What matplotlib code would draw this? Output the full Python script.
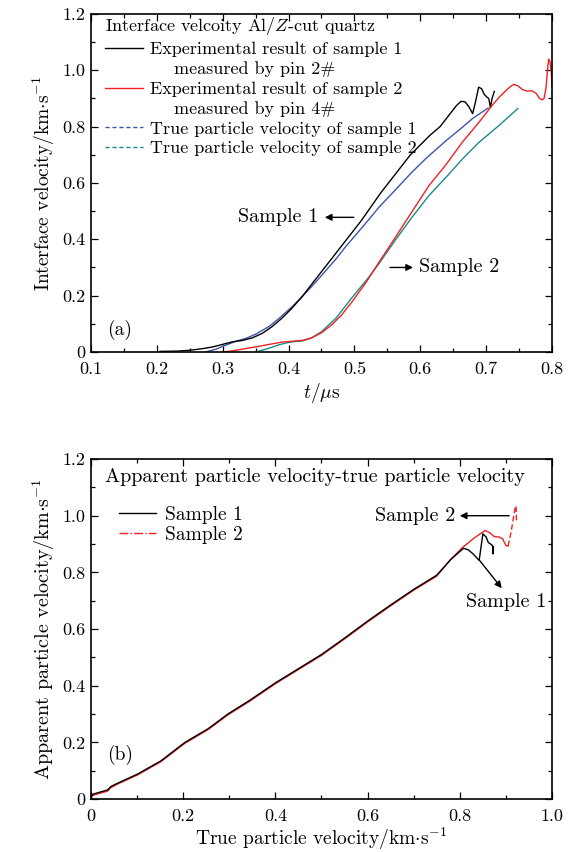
import matplotlib
matplotlib.use("Agg")
import matplotlib.pyplot as plt
from matplotlib.lines import Line2D
from matplotlib.ticker import MultipleLocator

plt.rcParams['font.family'] = ['cmr10', 'DejaVu Serif']
plt.rcParams['mathtext.fontset'] = 'cm'
plt.rcParams['axes.formatter.use_mathtext'] = True
plt.rcParams['axes.unicode_minus'] = False

# ---- panel (a): interface velocity vs time ----
t_exp1 = [0.205, 0.23, 0.25, 0.27, 0.285, 0.30, 0.315, 0.33, 0.345, 0.36, 0.375, 0.39,
          0.405, 0.42, 0.435, 0.45, 0.465, 0.48, 0.495, 0.51, 0.525, 0.54, 0.555, 0.57,
          0.585, 0.60, 0.615, 0.63, 0.645, 0.655, 0.662, 0.668, 0.674, 0.6795, 0.684,
          0.6886, 0.693, 0.697, 0.701, 0.704, 0.7065, 0.709, 0.7124]
v_exp1 = [0.002, 0.003, 0.006, 0.012, 0.018, 0.027, 0.036, 0.041, 0.05, 0.066, 0.09, 0.12,
          0.155, 0.195, 0.24, 0.285, 0.33, 0.375, 0.42, 0.465, 0.515, 0.565, 0.61, 0.655,
          0.70, 0.735, 0.77, 0.80, 0.845, 0.875, 0.89, 0.888, 0.87, 0.846, 0.89,
          0.94, 0.935, 0.915, 0.905, 0.90, 0.868, 0.90, 0.925]

t_true1 = [0.274, 0.29, 0.30, 0.32, 0.335, 0.35, 0.37, 0.386, 0.405, 0.421, 0.44, 0.457,
           0.472, 0.487, 0.50, 0.52, 0.5377, 0.56, 0.588, 0.61, 0.639, 0.66, 0.68, 0.703]
v_true1 = [0.0, 0.01, 0.02, 0.038, 0.048, 0.063, 0.09, 0.12, 0.16, 0.197, 0.245, 0.29,
           0.33, 0.375, 0.41, 0.465, 0.515, 0.57, 0.64, 0.69, 0.75, 0.79, 0.83, 0.866]

t_exp2 = [0.30, 0.315, 0.335, 0.355, 0.371, 0.39, 0.405, 0.421, 0.435, 0.45, 0.465, 0.48,
          0.497, 0.517, 0.5377, 0.563, 0.588, 0.613, 0.639, 0.664, 0.689, 0.709, 0.72,
          0.7297, 0.737, 0.742, 0.748, 0.755, 0.762, 0.77, 0.776, 0.781, 0.785, 0.788,
          0.791, 0.7935, 0.795, 0.797, 0.799, 0.80]
v_exp2 = [0.0, 0.004, 0.012, 0.02, 0.027, 0.035, 0.038, 0.041, 0.05, 0.068, 0.095, 0.13,
          0.18, 0.245, 0.32, 0.41, 0.50, 0.59, 0.665, 0.745, 0.815, 0.875, 0.905,
          0.927, 0.943, 0.95, 0.945, 0.932, 0.926, 0.927, 0.918, 0.90, 0.895, 0.90,
          0.94, 1.01, 1.04, 1.03, 0.99, 0.94]

t_true2 = [0.35, 0.36, 0.371, 0.385, 0.396, 0.41, 0.421, 0.435, 0.45, 0.472, 0.497, 0.52,
           0.5377, 0.563, 0.588, 0.613, 0.639, 0.664, 0.689, 0.72, 0.748]
v_true2 = [0.0, 0.006, 0.014, 0.025, 0.032, 0.037, 0.039, 0.05, 0.072, 0.12, 0.195, 0.26,
           0.315, 0.40, 0.48, 0.555, 0.62, 0.685, 0.744, 0.805, 0.864]

# ---- panel (b): apparent vs true particle velocity ----
u_s1 = [0.0, 0.004, 0.036, 0.043, 0.058, 0.101, 0.152, 0.203, 0.254, 0.297, 0.344, 0.40,
        0.45, 0.50, 0.55, 0.60, 0.65, 0.70, 0.75, 0.78, 0.808, 0.818, 0.829, 0.842,
        0.85, 0.857, 0.862, 0.867, 0.871, 0.872, 0.873]
a_s1 = [0.008, 0.017, 0.032, 0.044, 0.056, 0.088, 0.135, 0.199, 0.248, 0.30, 0.348, 0.41,
        0.46, 0.51, 0.568, 0.628, 0.685, 0.74, 0.79, 0.845, 0.885, 0.88, 0.865, 0.842,
        0.936, 0.925, 0.905, 0.90, 0.894, 0.865, 0.89]
u_s2 = [0.0, 0.004, 0.036, 0.043, 0.058, 0.101, 0.152, 0.203, 0.254, 0.297, 0.344, 0.40,
        0.45, 0.50, 0.55, 0.60, 0.65, 0.70, 0.75, 0.78, 0.804, 0.83, 0.855, 0.865,
        0.875, 0.885, 0.893, 0.90, 0.905]
a_s2 = [0.003, 0.013, 0.028, 0.04, 0.053, 0.085, 0.132, 0.196, 0.245, 0.297, 0.345, 0.407,
        0.457, 0.507, 0.565, 0.625, 0.682, 0.737, 0.787, 0.845, 0.885, 0.92, 0.948, 0.94,
        0.926, 0.925, 0.918, 0.895, 0.893]
u_s2_tail = [0.905, 0.912, 0.917, 0.92, 0.922, 0.923]
a_s2_tail = [0.893, 0.949, 1.0, 1.027, 1.035, 0.98]

xticks_a = [0.1, 0.2, 0.3, 0.4, 0.5, 0.6, 0.7, 0.8]
xticklabels_a = ['0.1', '0.2', '0.3', '0.4', '0.5', '0.6', '0.7', '0.8']
xticks_b = [0.0, 0.2, 0.4, 0.6, 0.8, 1.0]
xticklabels_b = ['0', '0.2', '0.4', '0.6', '0.8', '1.0']
yticks = [0.0, 0.2, 0.4, 0.6, 0.8, 1.0, 1.2]
yticklabels = ['0', '0.2', '0.4', '0.6', '0.8', '1.0', '1.2']

RED = '#ee2222'
BLUE = '#3b55a8'
TEAL = '#1b8a8a'

fig = plt.figure(figsize=(5.81, 8.52), dpi=100)
ax1 = fig.add_axes([0.1566, 0.5869, 0.7935, 0.3967])
ax2 = fig.add_axes([0.1566, 0.0622, 0.7935, 0.3990])


def style_axes(ax, xminor):
    for s in ax.spines.values():
        s.set_linewidth(1.2)
    ax.tick_params(which='both', direction='in', top=True, right=True, labelsize=13)
    ax.tick_params(which='major', length=5, width=0.9)
    ax.tick_params(which='minor', length=3, width=0.9)
    ax.tick_params(axis='x', which='major', pad=7)
    ax.tick_params(axis='y', which='major', pad=4)
    ax.xaxis.set_minor_locator(MultipleLocator(xminor))
    ax.yaxis.set_minor_locator(MultipleLocator(0.1))
    ax.set_yticks(yticks)
    ax.set_yticklabels(yticklabels)
    ax.set_ylim(0, 1.2)


arrow = dict(arrowstyle='-|>', color='black', lw=1.0, mutation_scale=10,
             shrinkA=0, shrinkB=0)

# ---------- (a) ----------
ax1.plot(t_true1, v_true1, color=BLUE, lw=1.0)
ax1.plot(t_true2, v_true2, color=TEAL, lw=1.0)
ax1.plot(t_exp1, v_exp1, color='black', lw=1.0)
ax1.plot(t_exp2, v_exp2, color=RED, lw=1.0)
style_axes(ax1, 0.05)
ax1.set_xlim(0.1, 0.8)
ax1.set_xticks(xticks_a)
ax1.set_xticklabels(xticklabels_a)
ax1.set_xlabel(r'$t$/$\mu$s', fontsize=14, labelpad=3)
ax1.set_ylabel(r'Interface velocity/km$\cdot$s$^{-1}$', fontsize=14)

# second lines of the two-line entries get an empty handle
blank = Line2D([], [], color='none')
handles_a = [Line2D([], [], color='black', lw=1.0), blank,
             Line2D([], [], color=RED, lw=1.0), blank,
             Line2D([], [], color=BLUE, lw=1.0, ls=(0, (3, 2))),
             Line2D([], [], color=TEAL, lw=1.0, ls=(0, (3, 2)))]
labels_a = ['Experimental result of sample 1', '    measured by pin 2#',
            'Experimental result of sample 2', '    measured by pin 4#',
            'True particle velocity of sample 1',
            'True particle velocity of sample 2']
ax1.legend(handles_a, labels_a, loc='upper left', bbox_to_anchor=(0.03, 0.996),
           frameon=False, fontsize=13,
           title=r'Interface velcoity Al/$Z$-cut quartz', title_fontsize=13,
           alignment='left', handlelength=2.1, handletextpad=0.4,
           labelspacing=0.23, borderaxespad=0.0, borderpad=0.0)

ax1.annotate('', xy=(0.455, 0.478), xytext=(0.499, 0.478), arrowprops=arrow)
ax1.text(0.445, 0.478, 'Sample 1', ha='right', va='center', fontsize=14.5)
ax1.annotate('', xy=(0.589, 0.30), xytext=(0.554, 0.30), arrowprops=arrow)
ax1.text(0.598, 0.30, 'Sample 2', ha='left', va='center', fontsize=14.5)
ax1.text(0.125, 0.077, '(a)', ha='left', va='center', fontsize=14)

# ---------- (b) ----------
ax2.plot(u_s2, a_s2, color=RED, lw=1.0)
ax2.plot(u_s2_tail, a_s2_tail, color=RED, lw=1.0, ls=(0, (4, 2)))
ax2.plot(u_s1, a_s1, color='black', lw=1.0)
style_axes(ax2, 0.1)
ax2.set_xlim(0, 1.0)
ax2.set_xticks(xticks_b)
ax2.set_xticklabels(xticklabels_b)
ax2.set_xlabel(r'True particle velocity/km$\cdot$s$^{-1}$', fontsize=14, labelpad=1)
ax2.set_ylabel(r'Apparent particle velocity/km$\cdot$s$^{-1}$', fontsize=14.5)

ax2.text(0.03, 1.1375, 'Apparent particle velocity-true particle velocity',
         ha='left', va='center', fontsize=14.5)
handles_b = [Line2D([], [], color='black', lw=1.0),
             Line2D([], [], color=RED, lw=1.0, ls='-.')]
ax2.legend(handles_b, ['Sample 1', 'Sample 2'], loc='upper left',
           bbox_to_anchor=(0.061, 0.862), frameon=False, fontsize=14,
           handlelength=1.9, handletextpad=0.45, labelspacing=0.12,
           borderaxespad=0.0, borderpad=0.0)

ax2.annotate('', xy=(0.80, 1.0), xytext=(0.907, 1.0), arrowprops=arrow)
ax2.text(0.79, 1.0, 'Sample 2', ha='right', va='center', fontsize=14.5)
ax2.annotate('', xy=(0.891, 0.744), xytext=(0.843, 0.842), arrowprops=arrow)
ax2.text(0.988, 0.697, 'Sample 1', ha='right', va='center', fontsize=14.5)
ax2.text(0.036, 0.155, '(b)', ha='left', va='center', fontsize=14)

fig.savefig('out.png', dpi=100)
